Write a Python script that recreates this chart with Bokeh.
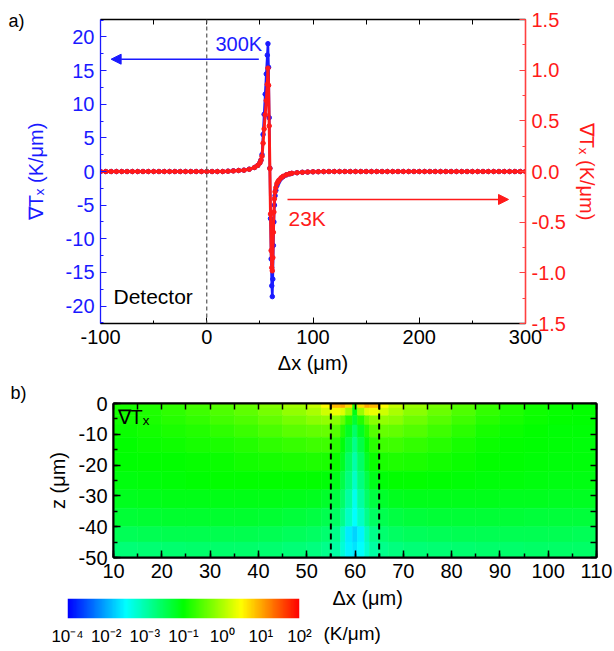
import numpy as np
from bokeh.plotting import figure
from bokeh.models import (Range1d, LinearAxis, SingleIntervalTicker, FixedTicker,
                          PrintfTickFormatter, Span, Arrow, NormalHead, Label,
                          LinearColorMapper, ColumnDataSource)
from bokeh.embed import file_html
from bokeh.resources import INLINE
from bokeh.transform import linear_cmap

# ---------------- data: panel a) ----------------
DX = [-100, -95, -90, -85, -80, -75, -70, -65, -60, -55,
      -50, -45, -40, -35, -30, -25, -20, -15, -10, -5,
      0, 5, 10, 15, 20, 25, 30, 35, 40, 45,
      48, 50, 51, 52, 53, 54, 55, 56, 57, 57.6,
      58.2, 58.8, 59.4, 60, 60.6, 61.2, 61.7, 62.2, 62.7, 63.2,
      63.7, 64.3, 65, 66, 67, 68, 70, 72, 75, 78,
      80, 85, 90, 95, 100, 105, 110,
      115, 120, 125, 130, 135, 140, 145, 150, 155, 160,
      165, 170, 175, 180, 185, 190, 195, 200, 205, 210,
      215, 220, 225, 230, 235, 240, 245, 250, 255, 260,
      265, 270, 275, 280, 285, 290, 295, 300]

GRAD_300K = [0.0, 0.0, 0.0, 0.0, 0.0, 0.0, 0.0, 0.0, 0.0, 0.0,
             0.0, 0.0, 0.0, 0.0, 0.0, 0.0, 0.0, 0.0, 0.0, 0.0,
             0.0, 0.0, 0.0, 0.0, 0.05, 0.1, 0.15, 0.2, 0.35, 0.6,
             0.9, 1.3, 1.7, 2.5, 5.5, 8.5, 11.5, 14.5, 17.3, 19.0,
             15.5, 8.0, 0.5, -7.0, -13.0, -17.0, -18.6, -16.0, -11.0, -7.5,
             -5.0, -3.6, -2.8, -2.1, -1.7, -1.4, -1.0, -0.75, -0.5, -0.35,
             -0.28, -0.18, -0.12, -0.08, -0.05, -0.03, -0.02,
             0.0, 0.0, 0.0, 0.0, 0.0, 0.0, 0.0, 0.0, 0.0, 0.0,
             0.0, 0.0, 0.0, 0.0, 0.0, 0.0, 0.0, 0.0, 0.0, 0.0,
             0.0, 0.0, 0.0, 0.0, 0.0, 0.0, 0.0, 0.0, 0.0, 0.0,
             0.0, 0.0, 0.0, 0.0, 0.0, 0.0, 0.0, 0.0]

GRAD_23K = [0.0, 0.0, 0.0, 0.0, 0.0, 0.0, 0.0, 0.0, 0.0, 0.0,
            0.0, 0.0, 0.0, 0.0, 0.0, 0.0, 0.0, 0.0, 0.0, 0.0,
            0.0, 0.0, 0.0, 0.0, 0.003, 0.006, 0.01, 0.013, 0.022, 0.04,
            0.06, 0.085, 0.11, 0.15, 0.28, 0.42, 0.56, 0.7, 0.86, 1.02,
            0.85, 0.45, 0.03, -0.42, -0.78, -0.95, -0.98, -0.85, -0.6, -0.4,
            -0.27, -0.2, -0.16, -0.12, -0.1, -0.085, -0.062, -0.047, -0.032, -0.023,
            -0.018, -0.012, -0.008, -0.005, -0.003, -0.002, -0.001,
            0.0, 0.0, 0.0, 0.0, 0.0, 0.0, 0.0, 0.0, 0.0, 0.0,
            0.0, 0.0, 0.0, 0.0, 0.0, 0.0, 0.0, 0.0, 0.0, 0.0,
            0.0, 0.0, 0.0, 0.0, 0.0, 0.0, 0.0, 0.0, 0.0, 0.0,
            0.0, 0.0, 0.0, 0.0, 0.0, 0.0, 0.0, 0.0]

# ---------------- data: panel b) (colour-bar level 0..6 per cell) ----------------
X_EDGES = [10, 15, 20, 25, 30, 35, 40, 45, 50, 53, 55, 57, 58, 59.5, 60.5,
           62, 63, 65, 67, 70, 75, 80, 85, 90, 95, 100, 105, 110]
Z_EDGES = [0, -1.5, -4, -7, -11, -16, -22, -28, -34, -40, -45, -50]
LEVEL_ROWS = [
    [3.15, 3.2, 3.3, 3.4, 3.5, 3.6, 3.75, 3.95, 4.15, 4.5, 4.9, 5.0, 4.7, 3.2, 4.7, 5.0, 4.9, 4.5, 4.15, 3.9, 3.7, 3.5, 3.35, 3.2, 3.1, 3.05, 3.0],
    [3.12, 3.18, 3.27, 3.36, 3.45, 3.55, 3.68, 3.85, 4.0, 4.2, 4.4, 4.3, 3.9, 2.9, 3.9, 4.3, 4.4, 4.2, 4.0, 3.8, 3.62, 3.45, 3.3, 3.18, 3.08, 3.03, 3.0],
    [3.1, 3.15, 3.22, 3.3, 3.38, 3.46, 3.57, 3.7, 3.8, 3.85, 3.8, 3.6, 3.2, 2.7, 3.2, 3.6, 3.8, 3.85, 3.8, 3.65, 3.5, 3.36, 3.22, 3.12, 3.05, 3.0, 2.98],
    [3.06, 3.1, 3.15, 3.2, 3.27, 3.34, 3.43, 3.52, 3.58, 3.6, 3.5, 3.2, 2.8, 2.4, 2.8, 3.2, 3.5, 3.6, 3.58, 3.48, 3.36, 3.25, 3.14, 3.06, 3.0, 2.97, 2.96],
    [3.02, 3.05, 3.08, 3.12, 3.16, 3.21, 3.27, 3.32, 3.36, 3.36, 3.25, 2.95, 2.6, 2.2, 2.6, 2.95, 3.25, 3.36, 3.36, 3.3, 3.22, 3.14, 3.07, 3.02, 2.98, 2.96, 2.95],
    [2.98, 3.0, 3.02, 3.04, 3.07, 3.1, 3.13, 3.16, 3.18, 3.16, 3.05, 2.8, 2.4, 2.0, 2.4, 2.8, 3.05, 3.16, 3.18, 3.15, 3.1, 3.05, 3.0, 2.98, 2.96, 2.95, 2.94],
    [2.92, 2.94, 2.96, 2.98, 3.0, 3.0, 3.0, 3.0, 3.0, 2.96, 2.85, 2.6, 2.25, 1.85, 2.25, 2.6, 2.85, 2.96, 3.0, 3.0, 2.99, 2.97, 2.95, 2.93, 2.91, 2.9, 2.9],
    [2.82, 2.84, 2.86, 2.88, 2.88, 2.88, 2.87, 2.85, 2.82, 2.76, 2.62, 2.4, 2.05, 1.6, 2.05, 2.4, 2.62, 2.76, 2.82, 2.84, 2.85, 2.85, 2.84, 2.83, 2.82, 2.81, 2.8],
    [2.68, 2.7, 2.72, 2.73, 2.73, 2.72, 2.7, 2.67, 2.62, 2.55, 2.42, 2.2, 1.85, 1.5, 1.85, 2.2, 2.42, 2.55, 2.62, 2.66, 2.68, 2.69, 2.69, 2.68, 2.67, 2.66, 2.65],
    [2.5, 2.52, 2.54, 2.55, 2.55, 2.54, 2.52, 2.48, 2.42, 2.35, 2.2, 1.85, 1.4, 1.25, 1.45, 1.9, 2.2, 2.35, 2.42, 2.47, 2.5, 2.52, 2.53, 2.53, 2.52, 2.51, 2.5],
    [2.3, 2.33, 2.36, 2.38, 2.39, 2.38, 2.36, 2.32, 2.26, 2.18, 2.05, 1.75, 1.45, 1.35, 1.5, 1.8, 2.05, 2.18, 2.25, 2.3, 2.34, 2.36, 2.38, 2.39, 2.4, 2.4, 2.4],
]
CB_TICKS = [0, 1, 2, 3, 4, 5, 6]
CB_LABELS = ["10⁻⁴", "10⁻²", "10⁻³", "10⁻¹", "10⁰", "10¹", "10²"]
DETECTOR_EDGES = [55, 65]

# ---------------- styling ----------------
FONT = "Liberation Sans"
BLUE = "#1a1aff"
RED = "#ff1a1a"
STOPS = [(0.0, (0, 0, 255)), (1.5, (0, 255, 255)), (3.0, (0, 255, 0)),
         (4.5, (255, 255, 0)), (6.0, (255, 0, 0))]
_pos = np.linspace(0, 6, 256)
_sx = [s[0] for s in STOPS]
_ch = [np.interp(_pos, _sx, [s[1][k] for s in STOPS]) for k in range(3)]
PALETTE = ["#%02x%02x%02x" % (int(round(r)), int(round(g)), int(round(b)))
           for r, g, b in zip(*_ch)]


def style_axis(ax, color="black", lw=1.0, tick_in=6, minor_in=3, size="20px", tick_lw=1.0):
    ax.axis_line_color = color
    ax.axis_line_width = lw
    ax.major_tick_line_color = color
    ax.minor_tick_line_color = color
    ax.major_tick_line_width = tick_lw
    ax.minor_tick_line_width = tick_lw
    ax.major_tick_in = tick_in
    ax.major_tick_out = 0
    ax.minor_tick_in = minor_in
    ax.minor_tick_out = 0
    ax.major_label_text_font = FONT
    ax.major_label_text_color = color
    ax.major_label_text_font_size = size
    ax.major_label_standoff = 6
    ax.axis_label_text_font = FONT
    ax.axis_label_text_font_size = "20px"
    ax.axis_label_text_font_style = "normal"
    ax.axis_label_text_color = "black"


def mirror_axis(tick_positions, color="black", lw=1.0, tick_len=5, tick_lw=1.0, **kw):
    ax = LinearAxis(ticker=FixedTicker(ticks=[], minor_ticks=tick_positions), **kw)
    ax.axis_line_color = color
    ax.axis_line_width = lw
    ax.minor_tick_line_color = color
    ax.minor_tick_line_width = tick_lw
    ax.minor_tick_in = tick_len
    ax.minor_tick_out = 0
    ax.major_tick_in = 0
    ax.major_tick_out = 0
    ax.major_label_standoff = 0
    return ax


def text(p, s, x, y, size, color="black", align="left", baseline="middle", place="center"):
    lab = Label(x=x, y=y, x_units="canvas", y_units="canvas", text=s,
                text_font=FONT, text_font_size=f"{size}px", text_color=color,
                text_align=align, text_baseline=baseline)
    p.add_layout(lab, place)


# ---------------- panel a) ----------------
p1 = figure(width=614, height=383, x_range=Range1d(-100, 300), y_range=Range1d(-22.6, 22.6),
            output_backend="svg", toolbar_location=None,
            min_border_left=100, min_border_right=89, min_border_top=19, min_border_bottom=60)
p1.xgrid.visible = False
p1.ygrid.visible = False
p1.outline_line_color = None
p1.extra_y_ranges = {"r": Range1d(-1.5, 1.5)}

xa = p1.xaxis[0]
xa.ticker = SingleIntervalTicker(interval=100, num_minor_ticks=2)
xa.formatter = PrintfTickFormatter(format="%d")
style_axis(xa, "black", 1.3)
xa.axis_label = "Δx (μm)"
xa.axis_label_standoff = 5

ya = p1.yaxis[0]
ya.ticker = SingleIntervalTicker(interval=5, num_minor_ticks=2)
ya.formatter = PrintfTickFormatter(format="%d")
style_axis(ya, BLUE, 1.3)
ya.axis_label = "∇Tₓ (K/μm)"
ya.axis_label_text_color = BLUE
ya.axis_label_standoff = 16

p1.add_layout(mirror_axis(list(range(-100, 301, 50)), "black", 1.3), "above")

right1 = LinearAxis(y_range_name="r", ticker=SingleIntervalTicker(interval=0.5, num_minor_ticks=2),
                    formatter=PrintfTickFormatter(format="%.1f"))
style_axis(right1, "#ff4040", 1.6)
right1.major_label_text_color = RED
right1.axis_label = "∇Tₓ (K/μm)"
right1.axis_label_text_color = RED
right1.axis_label_standoff = 7
p1.add_layout(right1, "right")

p1.add_layout(Span(location=0, dimension="height", line_color="#555555",
                   line_dash="4 3", line_width=1.2))

p1.line(DX, GRAD_300K, line_color=BLUE, line_width=2.5)
p1.scatter(DX, GRAD_300K, size=4.5, fill_color=BLUE, line_color=BLUE)
p1.line(DX, GRAD_23K, line_color=RED, line_width=3, y_range_name="r")
p1.scatter(DX, GRAD_23K, size=4.5, fill_color=RED, line_color=RED, y_range_name="r")

p1.add_layout(Arrow(end=NormalHead(size=10, fill_color=BLUE, line_color=BLUE),
                    x_start=49, y_start=16.7, x_end=-90, y_end=16.7,
                    line_color=BLUE, line_width=1.5))
p1.add_layout(Arrow(end=NormalHead(size=10, fill_color=RED, line_color=RED),
                    x_start=76, y_start=-0.276, x_end=284, y_end=-0.276,
                    line_color=RED, line_width=1.5, y_range_name="r"))

text(p1, "a)", 8, 20, 18, place="left")
text(p1, "300K", 215, 43, 20, BLUE)
text(p1, "23K", 288, 218, 21, RED)
text(p1, "Detector", 113, 296, 21)

# ---------------- panel b) ----------------
left, right, top, bottom, level = [], [], [], [], []
for i, row in enumerate(LEVEL_ROWS):
    for j, v in enumerate(row):
        left.append(X_EDGES[j])
        right.append(X_EDGES[j + 1])
        top.append(Z_EDGES[i])
        bottom.append(Z_EDGES[i + 1])
        level.append(v)
src = ColumnDataSource(dict(left=left, right=right, top=top, bottom=bottom, level=level))

p2 = figure(width=614, height=205, x_range=Range1d(10, 110), y_range=Range1d(-50, 0),
            output_backend="svg", toolbar_location=None,
            min_border_left=113, min_border_right=18, min_border_top=20, min_border_bottom=31)
p2.xgrid.visible = False
p2.ygrid.visible = False
p2.outline_line_color = "black"
p2.outline_line_width = 2
cmap = linear_cmap("level", PALETTE, 0, 6)
p2.quad(left="left", right="right", top="top", bottom="bottom", source=src,
        fill_color=cmap, line_color=cmap, line_width=0.6)
for xv in DETECTOR_EDGES:
    p2.add_layout(Span(location=xv, dimension="height", line_color="black",
                       line_dash="6 4", line_width=2))

xb = p2.xaxis[0]
xb.ticker = SingleIntervalTicker(interval=10, num_minor_ticks=2)
xb.formatter = PrintfTickFormatter(format="%d")
style_axis(xb, "black", 2, tick_in=7, minor_in=4, tick_lw=1.5)
yb = p2.yaxis[0]
yb.ticker = SingleIntervalTicker(interval=10, num_minor_ticks=2)
yb.formatter = PrintfTickFormatter(format="%d")
style_axis(yb, "black", 2, tick_in=7, minor_in=4, tick_lw=1.5)
yb.axis_label = "z (μm)"
yb.axis_label_standoff = 7
p2.add_layout(mirror_axis(list(range(10, 111, 5)), "black", 2, tick_len=6, tick_lw=1.5), "above")
p2.add_layout(mirror_axis(list(range(-50, 1, 5)), "black", 2, tick_len=6, tick_lw=1.5), "right")

text(p2, "b)", 10, 9, 18, place="left")
text(p2, "∇Tₓ", 117, 22, 20, baseline="top")

# ---------------- colour bar ----------------
p3 = figure(width=614, height=60, x_range=Range1d(0, 6), y_range=Range1d(0, 1),
            output_backend="svg", toolbar_location=None,
            min_border_left=67, min_border_right=315, min_border_top=10, min_border_bottom=25)
p3.xgrid.visible = False
p3.ygrid.visible = False
p3.outline_line_color = None
p3.yaxis.visible = False
mapper = LinearColorMapper(palette=PALETTE, low=0, high=6)
p3.image(image=[np.linspace(0, 6, 400).reshape(1, -1)], x=0, y=0, dw=6, dh=1,
         color_mapper=mapper)
ax3 = p3.xaxis[0]
ax3.ticker = FixedTicker(ticks=CB_TICKS)
ax3.major_label_overrides = {t: s for t, s in zip(CB_TICKS, CB_LABELS)}
ax3.axis_line_color = None
ax3.major_tick_line_color = None
ax3.minor_tick_line_color = None
ax3.major_label_text_font = FONT
ax3.major_label_text_font_size = "17px"
ax3.major_label_text_color = "black"
ax3.major_label_standoff = 2

text(p3, "Δx (μm)", 332, 9, 20, place="right")
text(p3, "(K/μm)", 323, 45, 19, place="right")

open("out.html", "w").write(file_html([p1, p2, p3], INLINE))
